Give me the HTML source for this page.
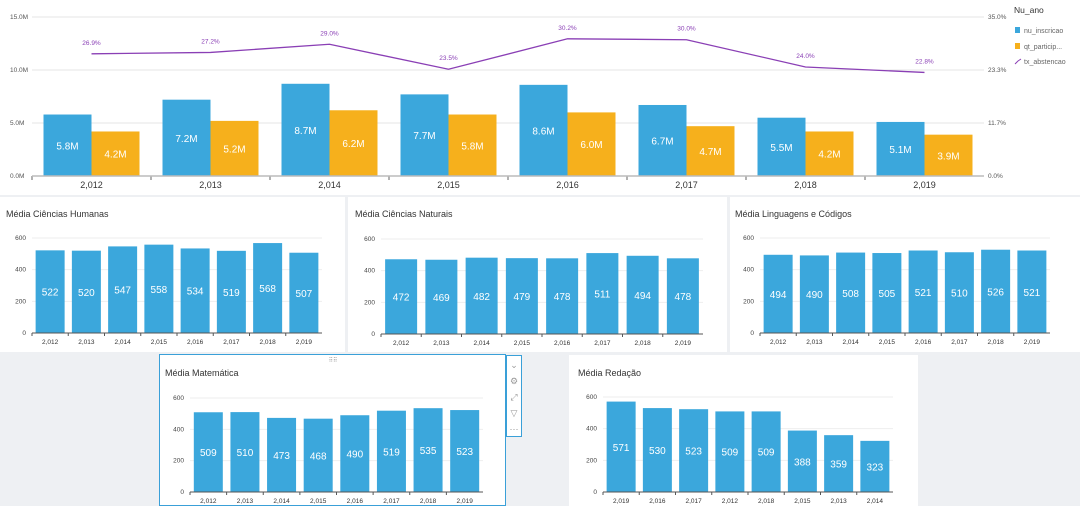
<!DOCTYPE html>
<html><head><meta charset="utf-8"><style>
body{margin:0;width:1080px;height:506px;background:#eef0f3;font-family:"Liberation Sans",sans-serif;overflow:hidden;position:relative}
.panel{position:absolute;background:#fff}
svg{position:absolute;left:0;top:0}
text{font-family:"Liberation Sans",sans-serif}
</style></head><body>
<div class="panel" style="left:0;top:0;width:1080px;height:195px"></div>
<div class="panel" style="left:0;top:197px;width:345px;height:155px"></div>
<div class="panel" style="left:348px;top:197px;width:379px;height:155px"></div>
<div class="panel" style="left:730px;top:197px;width:350px;height:155px"></div>
<div class="panel" style="left:159px;top:354px;width:345px;height:152px;border:1.5px solid #3aa0d8;box-sizing:border-box;width:347px"></div>
<div class="panel" style="left:569px;top:355px;width:349px;height:151px"></div>
<div style="position:absolute;left:506px;top:355px;width:16px;height:82px;background:#fff;border:1.5px solid #3aa0d8;box-sizing:border-box"></div>
<svg id="s" width="1080" height="506"></svg>
<script>
const years=["2,012","2,013","2,014","2,015","2,016","2,017","2,018","2,019"];
const inscricao=[5.8,7.2,8.7,7.7,8.6,6.7,5.5,5.1];
const participantes=[4.2,5.2,6.2,5.8,6.0,4.7,4.2,3.9];
const abstencao=[26.9,27.2,29.0,23.5,30.2,30.0,24.0,22.8];
const leftTicks=["0.0M","5.0M","10.0M","15.0M"];
const rightTicks=["0.0%","11.7%","23.3%","35.0%"];
const humanas=[522,520,547,558,534,519,568,507];
const naturais=[472,469,482,479,478,511,494,478];
const linguagens=[494,490,508,505,521,510,526,521];
const matematica=[509,510,473,468,490,519,535,523];
const redacaoYears=["2,019","2,016","2,017","2,012","2,018","2,015","2,013","2,014"];
const redacao=[571,530,523,509,509,388,359,323];
const smallTicks=[0,200,400,600];

const S=document.getElementById('s');const NS="http://www.w3.org/2000/svg";
function el(t,a,txt){const e=document.createElementNS(NS,t);for(const k in a)e.setAttribute(k,a[k]);if(txt!==undefined)e.textContent=txt;S.appendChild(e);return e;}
function tx(x,y,s,o){return el('text',Object.assign({x:x,y:y},o),s);}

// top chart
const x0=32,x1=984,y0=176,yT=17,bw=(x1-x0)/8;
const yL=v=>y0-(v/15)*(y0-yT), yR=v=>y0-(v/35)*(y0-yT);
leftTicks.forEach((t,i)=>{const y=y0-i*(y0-yT)/3;
 let g=el('line',{x1:x0,x2:x1,y1:y,y2:y,stroke:'#e6e6e6'});
 let a=tx(10,y+2,t,{'font-size':6.5,fill:'#555'});
 let b=tx(988,y+2,rightTicks[i],{'font-size':6.5,fill:'#555'});});
years.forEach((yr,i)=>{const c=x0+bw*(i+0.5);
 let r=el('rect',{x:c-48,y:yL(inscricao[i]),width:48,height:y0-yL(inscricao[i]),fill:'#3ba7dc'});
 let t=tx(c-24,(yL(inscricao[i])+y0)/2+4,inscricao[i].toFixed(1)+'M',{'font-size':10,fill:'#fff','text-anchor':'middle'});
 let r2=el('rect',{x:c,y:yL(participantes[i]),width:48,height:y0-yL(participantes[i]),fill:'#f6b01c'});
 let t2=tx(c+24,(yL(participantes[i])+y0)/2+4,participantes[i].toFixed(1)+'M',{'font-size':10,fill:'#fff','text-anchor':'middle'});
 let xl=tx(c,188,yr,{'font-size':9,fill:'#333','text-anchor':'middle'});
 let tk=el('line',{x1:x0+bw*i,x2:x0+bw*i,y1:y0,y2:y0+4,stroke:'#666'});
 let pl=tx(c,yR(abstencao[i])-9,abstencao[i].toFixed(1)+'%',{'font-size':6.5,fill:'#8a3fb5','text-anchor':'middle'});
});
let ax=el('line',{x1:x0,x2:x1,y1:y0,y2:y0,stroke:'#bbb','stroke-width':1.5});
let ln=el('polyline',{points:abstencao.map((v,i)=>(x0+bw*(i+0.5))+','+yR(v)).join(' '),fill:'none',stroke:'#8a3fb5','stroke-width':1.3});

let lt=tx(1014,13,'Nu_ano',{'font-size':8.5,fill:'#333'});
[['nu_inscricao','#3ba7dc',32],['qt_particip...','#f6b01c',48],['tx_abstencao','#8a3fb5',63]].forEach((d,i)=>{
 if(i<2){let r=el('rect',{x:1015,y:d[2]-5,width:5,height:6,fill:d[1]});}
 else{let l=el('polyline',{points:'1015,'+(d[2]+1)+' 1018,'+(d[2]-2)+' 1021,'+(d[2]-4),stroke:d[1],fill:'none'});}
 let t=tx(1024,d[2]+1,d[0],{'font-size':7,fill:'#666'});});

function small(title,tx0,ty,px0,px1,yTop,yBot,labels,vals,bwid){
 let ti=tx(tx0,ty,title,{'font-size':9,fill:'#333'});
 const f=v=>yBot-v/600*(yBot-yTop);const b=(px1-px0)/8;
 smallTicks.forEach(t=>{let g=el('line',{x1:px0,x2:px1,y1:f(t),y2:f(t),stroke:'#eee'});
  let l=tx(px0-6,f(t)+2,String(t),{'font-size':6.5,fill:'#444','text-anchor':'end'});});
 vals.forEach((v,i)=>{const c=px0+b*(i+0.5);
  let r=el('rect',{x:c-bwid/2,y:f(v),width:bwid,height:yBot-f(v),fill:'#3ba7dc'});
  let t=tx(c,(f(v)+yBot)/2+4,String(v),{'font-size':10,fill:'#fff','text-anchor':'middle'});
  let xl=tx(c,yBot+11,labels[i],{'font-size':6.5,fill:'#333','text-anchor':'middle'});
  let tk=el('line',{x1:px0+b*i,x2:px0+b*i,y1:yBot,y2:yBot+3,stroke:'#555'});});
 let a=el('line',{x1:px0,x2:px1,y1:yBot,y2:yBot,stroke:'#555'});
}
small('Média Ciências Humanas',6,217,32,322,238,333,years,humanas,29);
small('Média Ciências Naturais',355,217,381,703,239,334,years,naturais,32);
small('Média Linguagens e Códigos',735,217,760,1050,238,333,years,linguagens,29);
small('Média Matemática',165,376,190,483,398,492,years,matematica,29);
small('Média Redação',578,376,603,893,397,492,redacaoYears,redacao,29);
let h=tx(333,362,'⠿⠿',{'font-size':6,fill:'#999','text-anchor':'middle'});
['⌄','⚙','⤢','▽','⋯'].forEach((s,i)=>{let t=tx(514,368+i*16,s,{'font-size':9,fill:'#999','text-anchor':'middle'});});
</script>
</body></html>
